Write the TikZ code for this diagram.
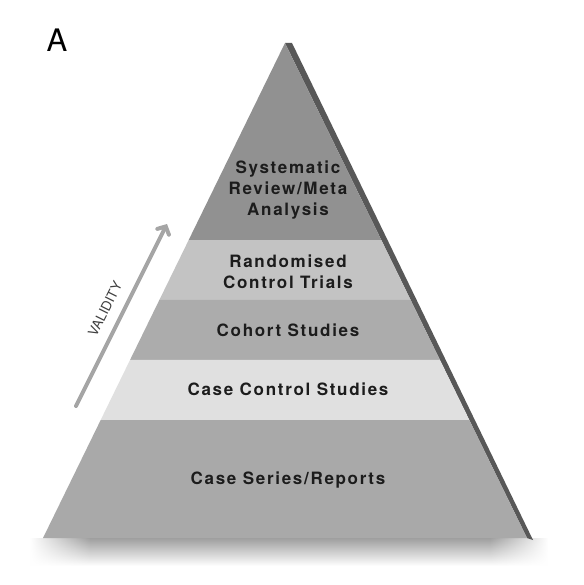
\documentclass[tikz,border=0pt]{standalone}
\usepackage{fontspec}
\setmainfont{TeX Gyre Heros}
\newfontfamily\labfont[LetterSpace=10]{TeX Gyre Heros}
\usetikzlibrary{calc,arrows.meta,fadings}
\definecolor{topgray}{HTML}{919191}
\definecolor{rctgray}{HTML}{C3C3C3}
\definecolor{cohgray}{HTML}{ACACAC}
\definecolor{ccgray}{HTML}{E0E0E0}
\definecolor{sergray}{HTML}{A9A9A9}
\definecolor{sidegray}{HTML}{585858}
\definecolor{arrowgray}{HTML}{A5A5A5}
\definecolor{labtext}{HTML}{1C1C1C}
\begin{document}
\begin{tikzpicture}[x=1pt,y=-1pt,
  lab/.style={font=\labfont\bfseries\fontsize{17}{21}\selectfont, text=labtext, align=center, inner sep=0pt},
  shadowpart/.style={top color=black!38, bottom color=white},
  arrowline/.style={draw=arrowgray, line width=4pt, line cap=round, -{Straight Barb[length=6pt,width=13pt,line cap=round]}}]
\useasboundingbox (0,0) rectangle (583,585);
\fill[white] (0,0) rectangle (583,585);
% key points
\coordinate (apex) at (285,43);
\coordinate (bl) at (43,538);
\coordinate (br) at (527,538);
\coordinate (l1) at ($(apex)!0.398!(bl)$);
\coordinate (r1) at ($(apex)!0.398!(br)$);
\coordinate (l2) at ($(apex)!0.519!(bl)$);
\coordinate (r2) at ($(apex)!0.519!(br)$);
\coordinate (l3) at ($(apex)!0.640!(bl)$);
\coordinate (r3) at ($(apex)!0.640!(br)$);
\coordinate (l4) at ($(apex)!0.762!(bl)$);
\coordinate (r4) at ($(apex)!0.762!(br)$);
% soft shadow under the base
\shade[shadowpart] (90,538) rectangle (490,566);
\shade[shadowpart, path fading=west] (30,538) rectangle (90.5,566);
\shade[shadowpart, path fading=east] (489.5,538) rectangle (548,566);
% side strip
\fill[sidegray] (apex) -- (292,43) -- (533,540) -- (br) -- cycle;
% bands
\fill[topgray] (apex) -- (r1) -- (l1) -- cycle;
\fill[rctgray] (l1) -- (r1) -- (r2) -- (l2) -- cycle;
\fill[cohgray] (l2) -- (r2) -- (r3) -- (l3) -- cycle;
\fill[ccgray] (l3) -- (r3) -- (r4) -- (l4) -- cycle;
\fill[sergray] (l4) -- (r4) -- (br) -- (bl) -- cycle;
% labels
\node[lab] (sr) at (288,190) {Systematic\\Review/Meta\\Analysis};
\node[lab] (rct) at (288,272) {Randomised\\Control Trials};
\node[lab] (coh) at (288,330) {Cohort Studies};
\node[lab] (cc) at (288,389) {Case Control Studies};
\node[lab] (ser) at (288,480) {Case Series/Reports};
% panel letter
\node[font=\fontsize{31}{31}\selectfont, text=black, inner sep=0pt] (panel) at (57,40) {A};
% validity arrow
\coordinate (atail) at (76,406);
\coordinate (ahead) at (167,224);
\draw[arrowline] (atail) -- (ahead);
\node[rotate=63.4, font=\fontsize{13.5}{13.5}\selectfont, text=black!75, inner sep=0pt] (val) at (105,309) {VALIDITY};
\end{tikzpicture}
\end{document}
